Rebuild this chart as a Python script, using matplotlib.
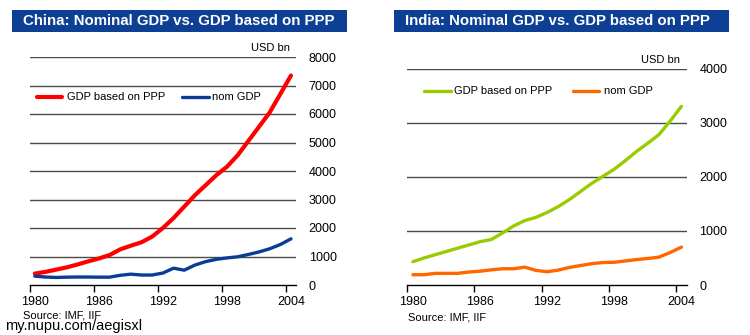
import matplotlib
matplotlib.use("Agg")
import matplotlib.pyplot as plt
from matplotlib.ticker import FixedLocator, NullFormatter
import numpy as np

plt.rcParams['font.family'] = ['Liberation Sans', 'DejaVu Sans']

years = list(range(1980, 2005))
tick_years = [1980, 1986, 1992, 1998, 2004]

china_ppp = [400, 460, 540, 620, 720, 830, 930, 1050, 1250, 1380, 1500, 1700, 2000,
             2350, 2750, 3150, 3500, 3850, 4150, 4550, 5050, 5550, 6050, 6700, 7350]
china_nom = [310, 280, 265, 275, 280, 280, 275, 275, 340, 380, 350, 350, 420,
             590, 520, 700, 820, 900, 950, 990, 1070, 1160, 1270, 1420, 1620]
india_ppp = [430, 500, 560, 620, 680, 740, 800, 840, 960, 1090, 1190, 1250, 1340,
             1450, 1580, 1730, 1880, 2010, 2140, 2300, 2470, 2620, 2780, 3030, 3300]
india_nom = [190, 190, 215, 215, 215, 240, 255, 280, 300, 300, 330, 270, 245,
             275, 325, 360, 395, 415, 420, 445, 470, 490, 515, 600, 700]

china_ticks = [0, 1000, 2000, 3000, 4000, 5000, 6000, 7000, 8000]
india_ticks = [0, 1000, 2000, 3000, 4000]

W, H = 750, 335
fig = plt.figure(figsize=(7.5, 3.35), dpi=100)
fig.patch.set_facecolor('white')

TITLE_BG = '#0d3f94'


def px(x0, y0, x1, y1):
    return [x0 / W, 1 - y1 / H, (x1 - x0) / W, (y1 - y0) / H]


def panel(rect, title_rect, title, ppp, nom, c1, c2, lw1, lw2, yt, ymax,
          usd_xy, leg1, leg2, src_xy):
    # title bar
    tb = fig.add_axes(px(*title_rect))
    tb.set_facecolor(TITLE_BG)
    tb.set_xticks([]); tb.set_yticks([])
    for s in tb.spines.values():
        s.set_visible(False)
    tb.text(0.033, 0.5, title, color='white', fontsize=10.8, fontweight='bold',
            va='center', ha='left', transform=tb.transAxes)

    ax = fig.add_axes(px(*rect))
    ax.set_xlim(1979.5, 2004.5)
    ax.set_ylim(0, ymax)
    for yv in yt[1:]:
        ax.axhline(yv, color='#4a4a4a', lw=1.0, zorder=1)
    ax.plot(years, ppp, color=c1, lw=lw1, solid_capstyle='round', zorder=3)
    ax.plot(years, nom, color=c2, lw=lw2, solid_capstyle='round', zorder=3)
    for s in ['top', 'left', 'right']:
        ax.spines[s].set_visible(False)
    ax.spines['bottom'].set_color('black')
    ax.spines['bottom'].set_linewidth(1.0)
    ax.xaxis.set_major_locator(FixedLocator([y - 0.5 for y in tick_years]))
    ax.xaxis.set_major_formatter(NullFormatter())
    ax.xaxis.set_minor_locator(FixedLocator(tick_years))
    ax.set_xticklabels([str(y) for y in tick_years], minor=True)
    ax.tick_params(axis='x', which='major', length=5, width=1, color='black', direction='out')
    ax.tick_params(axis='x', which='minor', length=0, pad=8, labelsize=9)
    ax.yaxis.tick_right()
    ax.set_yticks(yt)
    ax.set_yticklabels([str(v) for v in yt])
    ax.tick_params(axis='y', length=0, pad=9, labelsize=9)

    fig.text(usd_xy[0] / W, 1 - usd_xy[1] / H, 'USD bn', fontsize=8, ha='right', va='center')
    # legend
    (lx0, lx1, ly, lt), (mx0, mx1, mt) = leg1, leg2
    fig.add_artist(plt.Line2D([lx0 / W, lx1 / W], [1 - ly / H] * 2, color=c1, lw=lw1,
                              solid_capstyle='round'))
    fig.text(lt / W, 1 - ly / H, 'GDP based on PPP', fontsize=8, ha='left', va='center')
    fig.add_artist(plt.Line2D([mx0 / W, mx1 / W], [1 - ly / H] * 2, color=c2, lw=lw2,
                              solid_capstyle='round'))
    fig.text(mt / W, 1 - ly / H, 'nom GDP', fontsize=8, ha='left', va='center')
    fig.text(src_xy[0] / W, 1 - src_xy[1] / H, 'Source: IMF, IIF', fontsize=8,
             ha='left', va='center')
    return ax


panel((29.5, 57, 296.3, 285), (12, 10, 347, 32),
      'China: Nominal GDP vs. GDP based on PPP',
      china_ppp, china_nom, '#ff0000', '#0a3c96', 3.0, 2.4, china_ticks, 8000,
      (290, 48), (37, 62, 97, 67), (182, 209, 212), (23, 315))

panel((407.3, 68.5, 687, 285), (394, 10, 729, 32),
      'India: Nominal GDP vs. GDP based on PPP',
      india_ppp, india_nom, '#99cc00', '#ff6600', 2.4, 2.4, india_ticks, 4000,
      (680, 60), (424, 451, 91, 454), (573, 599, 604), (408, 317))

fig.text(5 / W, 1 - 326 / H, 'my.nupu.com/aegisxl', fontsize=10.5, ha='left',
         va='center', color='black')

fig.savefig('out.png', dpi=100, facecolor='white')
